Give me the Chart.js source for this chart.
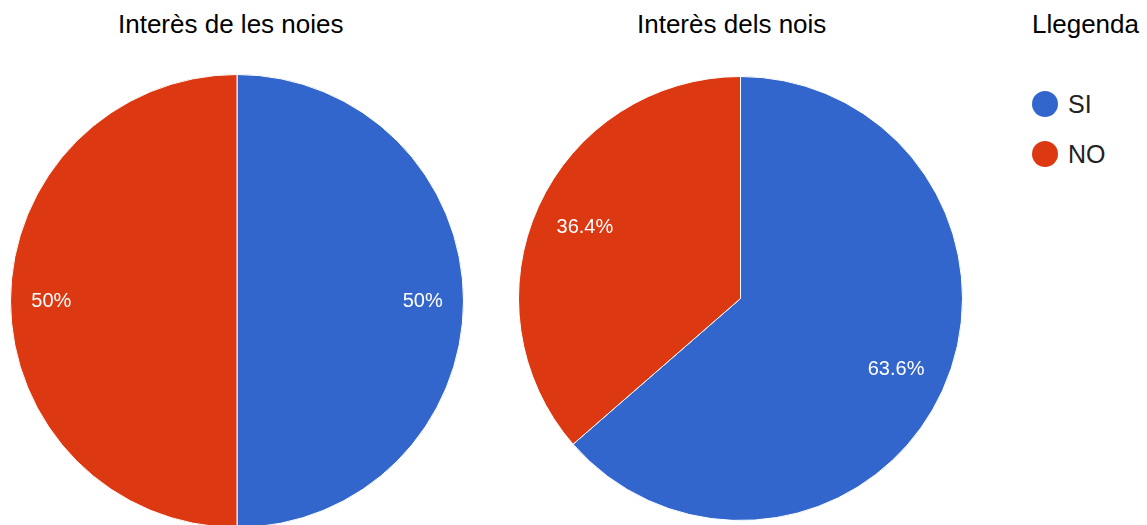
<!DOCTYPE html>
<html>
<head>
    <meta charset="utf-8">
    <title>Interès</title>
    <script src="https://cdn.jsdelivr.net/npm/chart.js@4/dist/chart.umd.min.js"></script>
    <style>
        body { margin: 0; width: 1147px; height: 525px; overflow: hidden; background: #fff;
               font-family: "Liberation Sans", Arial, sans-serif; position: relative; }
        .title { position: absolute; top: 11px; font-size: 26px; line-height: 26px; color: #000; white-space: nowrap; }
        .pie { position: absolute; }
        #legend { position: absolute; left: 1032px; top: 91px; }
        .item { display: flex; align-items: center; height: 26px; margin-bottom: 24px; font-size: 25px; color: #222; }
        .dot { width: 26px; height: 26px; border-radius: 50%; margin-right: 10px; }
    </style>
</head>
<body>

<div class="title" id="t1" style="left:118px">Interès de les noies</div>
<div class="title" id="t2" style="left:637px">Interès dels nois</div>
<div class="title" id="t3" style="left:1032px">Llegenda</div>

<canvas class="pie" id="noiesChart" width="454" height="454" style="left:10px;top:74px"></canvas>
<canvas class="pie" id="noisChart" width="445" height="445" style="left:518px;top:76px"></canvas>

<div id="legend"></div>

<script>
    // data
    var labels = ['SI', 'NO'];
    var noies = [50, 50];
    var nois = [63.6, 36.4];
    var colors = ['#3366CC', '#DC3912'];
    var titles = ['Interès de les noies', 'Interès dels nois', 'Llegenda'];

    document.getElementById('t1').textContent = titles[0];
    document.getElementById('t2').textContent = titles[1];
    document.getElementById('t3').textContent = titles[2];

    // percent labels inside the slices
    var pctLabels = {
        id: 'pctLabels',
        afterDatasetsDraw: function(chart, args, opts) {
            var ctx = chart.ctx;
            var data = chart.data.datasets[0].data;
            var total = data.reduce(function(a, b) { return a + b; }, 0);
            chart.getDatasetMeta(0).data.forEach(function(arc, i) {
                var mid = (arc.startAngle + arc.endAngle) / 2;
                var r = arc.outerRadius * opts.factor;
                var pct = Math.round(data[i] / total * 1000) / 10;
                ctx.save();
                ctx.fillStyle = '#fff';
                ctx.font = '20px "Liberation Sans", Arial, sans-serif';
                ctx.textAlign = 'center';
                ctx.textBaseline = 'middle';
                ctx.fillText(pct + '%', arc.x + Math.cos(mid) * r, arc.y + Math.sin(mid) * r);
                ctx.restore();
            });
        }
    };

    function makePie(id, values, factor) {
        return new Chart(document.getElementById(id), {
            type: 'pie',
            data: {
                labels: labels,
                datasets: [{
                    data: values,
                    backgroundColor: colors,
                    borderColor: '#fff',
                    borderWidth: 1
                }]
            },
            options: {
                responsive: false,
                animation: false,
                layout: { padding: 0 },
                plugins: {
                    legend: { display: false },
                    tooltip: { enabled: false },
                    pctLabels: { factor: factor }
                }
            },
            plugins: [pctLabels]
        });
    }

    makePie('noiesChart', noies, 0.82);
    makePie('noisChart', nois, 0.77);

    // legend
    var legend = document.getElementById('legend');
    labels.forEach(function(l, i) {
        var row = document.createElement('div');
        row.className = 'item';
        var dot = document.createElement('span');
        dot.className = 'dot';
        dot.style.background = colors[i];
        row.appendChild(dot);
        row.appendChild(document.createTextNode(l));
        legend.appendChild(row);
    });
</script>
</body>
</html>
